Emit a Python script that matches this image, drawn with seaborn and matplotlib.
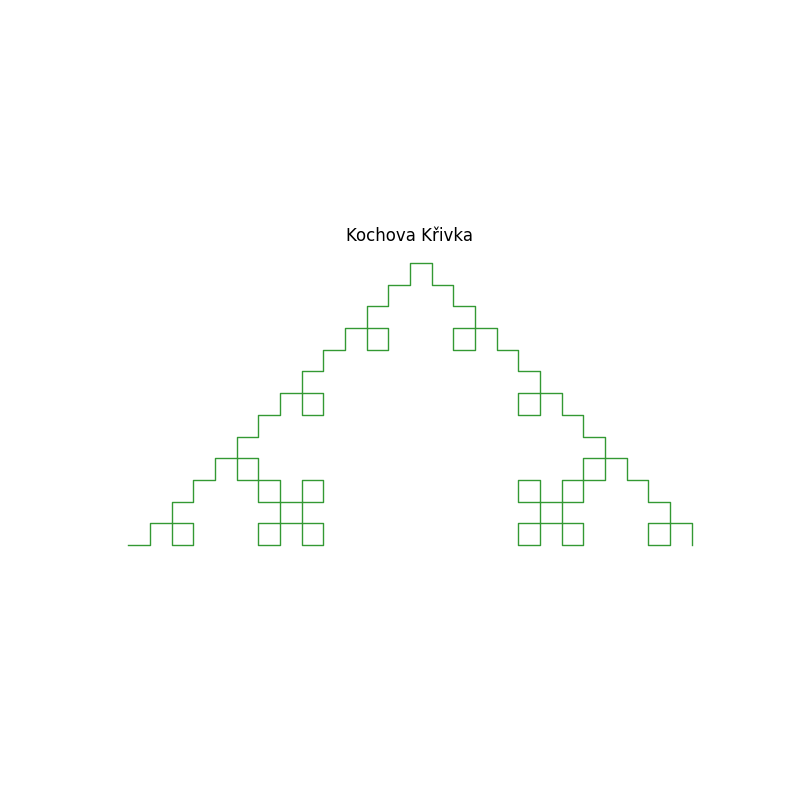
"""
Kochova krivka - quadratic Koch curve drawn as one line
"""

import numpy as np
import matplotlib
matplotlib.use("Agg")
import matplotlib.pyplot as plt
import seaborn as sns

# turtle moves (E/N/W/S), in five blocks of 25 steps
moves_1 = "ENESE NWNEN ENESE SESWS ENESE"
moves_2 = "NWNEN WSWNW NWNEN ENESE NWNEN"
moves_3 = "ENESE NWNEN ENESE SESWS ENESE"
moves_4 = "SESWS ENESE SESWS WSWNW SESWS"
moves_5 = "ENESE NWNEN ENESE SESWS ENES"

title = "Kochova Křivka"
line_color = "green"

step = {"E": (1, 0), "N": (0, 1), "W": (-1, 0), "S": (0, -1)}


def build_path(blocks):
    seq = "".join(blocks).replace(" ", "")
    dxy = np.array([step[c] for c in seq])
    pts = np.vstack([[0, 0], np.cumsum(dxy, axis=0)])
    return pts[:, 0], pts[:, 1]


if __name__ == "__main__":
    xs, ys = build_path([moves_1, moves_2, moves_3, moves_4, moves_5])

    fig, ax = plt.subplots(figsize=(8, 8), dpi=100)
    sns.lineplot(x=xs, y=ys, sort=False, estimator=None,
                 color=line_color, alpha=0.8, linewidth=1.0, ax=ax)
    ax.set_aspect("equal")
    ax.axis("off")
    ax.set_title(title)
    plt.savefig("out.png", dpi=100)
    plt.close()
